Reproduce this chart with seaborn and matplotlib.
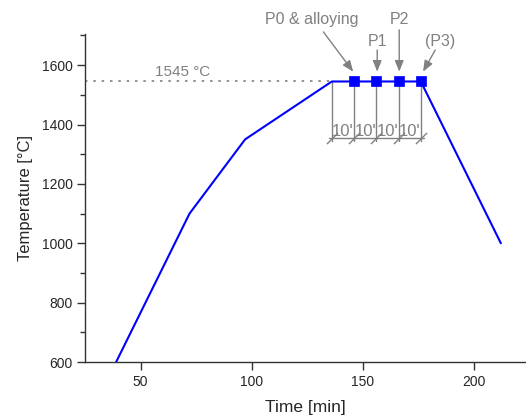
import matplotlib
matplotlib.use("Agg")
import matplotlib.pyplot as plt
import seaborn as sns
from matplotlib.ticker import MultipleLocator

# Heating profile: time [min] vs temperature [°C]
time_min = [39, 72, 97, 136, 146, 156, 166, 176, 212]
temp_c = [600, 1100, 1350, 1545, 1545, 1545, 1545, 1545, 1000]

# Sampling points during the hold
hold_start = 136
sample_times = [146, 156, 166, 176]
sample_labels = ["P0 & alloying", "P1", "P2", "(P3)"]
hold_temp = 1545
interval_labels = ["10'", "10'", "10'", "10'"]

sns.set_theme(style="ticks")
plt.rcParams["font.family"] = ["Liberation Sans", "DejaVu Sans"]

gray = "#808080"
fig = plt.figure(figsize=(5.26, 4.16), dpi=100)
ax = fig.add_axes([0.1616, 0.1298, 0.8384, 0.7885])

# reference level
ax.plot([25, hold_start], [hold_temp, hold_temp], color=gray, lw=1.2,
        ls=(0, (1.5, 3.5)), zorder=1)
ax.text(56.5, hold_temp + 8, "1545 °C", color=gray, fontsize=11,
        ha="left", va="bottom")

# dimension lines for the hold intervals
dim_y = 1355
ext_bottom = 1345
edges = [hold_start] + sample_times
for xe in edges:
    ax.plot([xe, xe], [hold_temp, ext_bottom], color=gray, lw=1.0, zorder=1)
ax.plot([edges[0] - 1.5, edges[-1] + 1.5], [dim_y, dim_y], color=gray, lw=1.0, zorder=1)
ax.plot(edges, [dim_y] * len(edges), ls="none", marker=[(-1, -1), (1, 1)],
        markersize=8, markeredgecolor=gray, markeredgewidth=1.0, zorder=1)
for a, b, lab in zip(edges[:-1], edges[1:], interval_labels):
    ax.text((a + b) / 2, dim_y + 5, lab, color=gray, fontsize=12,
            ha="center", va="baseline")

# profile
sns.lineplot(x=time_min, y=temp_c, color="blue", lw=1.5, ax=ax, zorder=3)
sns.scatterplot(x=sample_times, y=[hold_temp] * len(sample_times), marker="s",
                s=60, color="blue", edgecolor="blue", linewidth=0.5, ax=ax, zorder=4)

# sample annotations: label position, arrow start, arrow tip
text_pos = [(126.8, 1753), (156.4, 1680), (166.3, 1753), (184.7, 1680)]
arrow_start = [(132.2, 1712), (156.4, 1651), (166.3, 1719), (182.5, 1651)]
arrow_tip = [(145.6, 1578), (156.4, 1578), (166.3, 1578), (177.0, 1578)]
for lab, tp, st, tip in zip(sample_labels, text_pos, arrow_start, arrow_tip):
    ax.text(tp[0], tp[1], lab, color=gray, fontsize=11.5, ha="center",
            va="center", clip_on=False)
    ax.annotate("", xy=tip, xytext=st, textcoords="data",
                annotation_clip=False,
                arrowprops=dict(arrowstyle="-|>,head_length=0.55,head_width=0.22",
                                color=gray, lw=1.0, shrinkA=0, shrinkB=0))

ax.set_xlim(25, 223.3)
ax.set_ylim(600, 1705)
ax.xaxis.set_major_locator(MultipleLocator(50))
ax.yaxis.set_major_locator(MultipleLocator(200))
ax.yaxis.set_minor_locator(MultipleLocator(100))
ax.tick_params(axis="both", which="major", direction="out", length=6,
               width=1, labelsize=10, pad=3, color="#333333")
ax.tick_params(axis="y", which="minor", direction="out", length=3.5, width=1,
               color="#333333")
for s in ["top", "right"]:
    ax.spines[s].set_visible(False)
for s in ["left", "bottom"]:
    ax.spines[s].set_color("#333333")
    ax.spines[s].set_linewidth(1.0)

ax.set_xlabel("Time [min]", fontsize=12.5, labelpad=8)
ax.set_ylabel("Temperature [°C]", fontsize=12, labelpad=6)

fig.savefig("out.png", dpi=100)
